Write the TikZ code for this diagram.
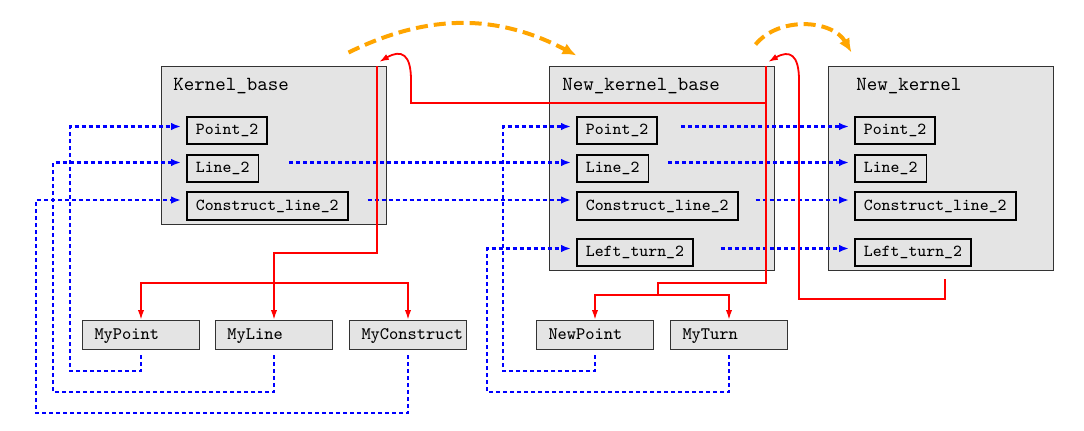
\documentclass[tikz,border=0pt]{standalone}
\usepackage{fontspec}
\usepackage{tikz}
\usetikzlibrary{positioning, calc, fit, arrows.meta}
\definecolor{boxgray}{HTML}{E4E4E4}
\definecolor{framegray}{HTML}{333333}
\definecolor{arcorange}{HTML}{FFA500}
\newcommand{\boxtitlefont}{\ttfamily\fontsize{10}{12}\selectfont}
\newcommand{\slotfont}{\ttfamily\fontsize{8.4}{10}\selectfont}
\newcommand{\userfont}{\ttfamily\fontsize{8.8}{10}\selectfont}

\begin{document}
\begin{tikzpicture}[x=0.5pt, y=0.5pt,
    outerbox/.style={draw=framegray, line width=0.5pt, fill=boxgray, inner sep=0pt},
    slot/.style={draw=black, line width=0.9pt, fill=boxgray, font=\slotfont,
      anchor=west, minimum height=13.75pt, inner xsep=4.5pt, inner ysep=0pt,
      text height=5.6pt, text depth=1.4pt},
    userbox/.style={draw=framegray, line width=0.5pt, fill=boxgray, font=\userfont,
      text width=46.5pt, align=left, inner xsep=6pt, inner ysep=0pt, minimum height=14.5pt,
      text height=5.8pt, text depth=1.6pt},
    bluelink/.style={blue, line width=1.1pt, dash pattern=on 2pt off 1.5pt,
      -{Latex[length=5pt,width=3.8pt]}, shorten >=2.5pt},
    redlink/.style={red, line width=0.9pt},
    redarrow/.style={redlink, -{Latex[length=5pt,width=3.2pt]}},
    orangearc/.style={arcorange, line width=2pt, dash pattern=on 6pt off 3pt,
      -{Latex[length=7pt,width=6pt]}}]
  \useasboundingbox (0,0) rectangle (1084,-430);

  % packages
  \node[outerbox, fit={(161,-66) (386,-224)}] (kb) {};
  \node[outerbox, fit={(549,-66) (774,-270)}] (nkb) {};
  \node[outerbox, fit={(828,-66) (1053,-270)}] (nk) {};

  \node[font=\boxtitlefont, anchor=west, inner sep=0pt] (kb-title) at (173,-86) {Kernel\_base};
  \node[font=\boxtitlefont, anchor=west, inner sep=0pt] (nkb-title) at (562,-86) {New\_kernel\_base};
  \node[font=\boxtitlefont, anchor=west, inner sep=0pt] (nk-title) at (856,-86) {New\_kernel};

  % classes inside the packages
  \foreach \pkg/\x in {kb/186, nkb/576, nk/854} {
    \node[slot] (\pkg-point) at (\x,-130.5) {Point\_2};
    \node[slot] (\pkg-line) at (\x,-168.5) {Line\_2};
    \node[slot] (\pkg-cons) at (\x,-206) {Construct\_line\_2};
  }
  \foreach \pkg/\x in {nkb/576, nk/854} {
    \node[slot] (\pkg-turn) at (\x,-252.5) {Left\_turn\_2};
  }

  % user classes
  \node[userbox, anchor=north west] (mypoint) at (82,-320) {MyPoint};
  \node[userbox, anchor=north west] (myline) at (215,-320) {MyLine};
  \node[userbox, anchor=north west] (mycons) at (349,-320) {MyConstruct};
  \node[userbox, anchor=north west] (newpoint) at (536,-320) {NewPoint};
  \node[userbox, anchor=north west] (myturn) at (670,-320) {MyTurn};

  % blue: uses
  \foreach \src/\dst/\drop/\back/\lift in {
      mypoint/kb-point/21/-58pt/2pt, myline/kb-line/42/-66.5pt/3pt,
      mycons/kb-cons/63/-75pt/3pt, newpoint/nkb-point/21/-36.5pt/2pt,
      myturn/nkb-turn/42/-44.5pt/2pt} {
    \draw[bluelink, shorten <=2.5pt] (\src.south) -- ++(0,-\drop)
      -| ([xshift=\back,yshift=\lift]\dst.west) -- ([yshift=\lift]\dst.west);
  }
  \foreach \a/\b/\gap/\lift in {
      kb-line/nkb-line/15pt/3pt, kb-cons/nkb-cons/9.5pt/3pt,
      nkb-point/nk-point/11.5pt/2pt, nkb-line/nk-line/9.5pt/3pt,
      nkb-cons/nk-cons/8.5pt/3pt, nkb-turn/nk-turn/13.5pt/2pt} {
    \draw[bluelink] ([xshift=\gap,yshift=\lift]\a.east) -- ([yshift=\lift]\b.west);
  }

  % red: derivation
  \coordinate (kb-hook) at ($(kb.north east)+(-9.5,-0.5)$);
  \coordinate (nkb-hook) at ($(nkb.north east)+(-8.5,-0.5)$);
  \coordinate (kb-split) at ($(myline.north)+(0,37)$);
  \coordinate (nkb-split) at ($(newpoint.north)!0.5!(myturn.north)+(-4,25)$);
  \coordinate (nk-tail) at ($(nk.south west)+(117.5,-8.5)$);

  \draw[redarrow] (kb-hook) |- ($(myline.north)+(0,67)$) -- (myline.north);
  \draw[redarrow] (kb-split) -| (mypoint.north);
  \draw[redarrow] (kb-split) -| (mycons.north);

  \draw[redlink] (nkb-hook) |- ($(nkb-split)+(0,12)$) -- (nkb-split);
  \draw[redarrow] (nkb-split) -| (newpoint.north);
  \draw[redarrow] (nkb-split) -| (myturn.north);

  \draw[redarrow] ($(nkb-hook)+(0,-37)$) -| ($(kb-hook)+(34,-14)$)
    to[out=90, in=30, looseness=1.8] ($(kb-hook)+(2,4)$);
  \draw[redarrow] (nk-tail) |- ($(nkb-hook)+(33,-233)$) -- ($(nkb-hook)+(33,-14)$)
    to[out=90, in=30, looseness=1.8] ($(nkb-hook)+(2,4)$);

  % orange: versions
  \coordinate (kb-arc) at ($(kb.north east)+(-38,13)$);
  \coordinate (nkb-arc-in) at ($(nkb.north west)+(28,10)$);
  \coordinate (nkb-arc) at ($(nkb.north east)+(-19,21)$);
  \coordinate (nk-arc-in) at ($(nk.north west)+(24,13)$);
  \draw[orangearc] (kb-arc) to[bend left=27] (nkb-arc-in);
  \draw[orangearc] (nkb-arc) to[bend left=55] (nk-arc-in);
\end{tikzpicture}
\end{document}
